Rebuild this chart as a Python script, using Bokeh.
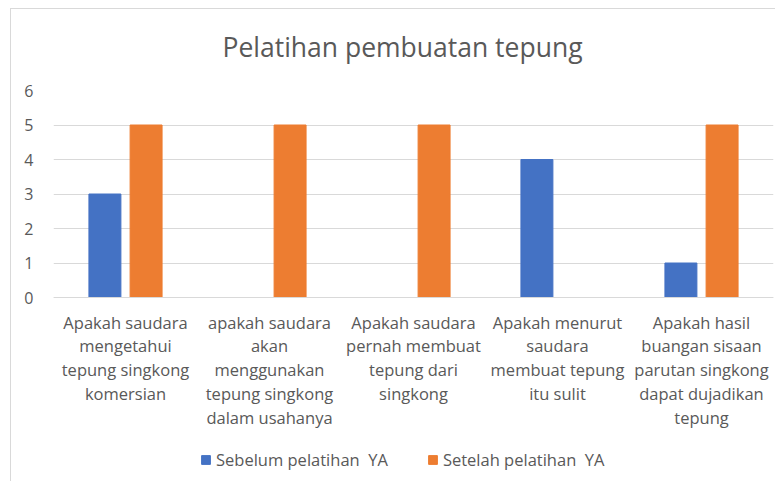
from bokeh.plotting import figure
from bokeh.models import ColumnDataSource, Legend, LegendItem, FactorRange, Range1d
from bokeh.transform import dodge
from bokeh.embed import file_html
from bokeh.resources import INLINE

categories = [
    "Apakah saudara\nmengetahui\ntepung singkong\nkomersian",
    "apakah saudara\nakan\nmenggunakan\ntepung singkong\ndalam usahanya",
    "Apakah saudara\npernah membuat\ntepung dari\nsingkong",
    "Apakah menurut\nsaudara\nmembuat tepung\nitu sulit",
    "Apakah hasil\nbuangan sisaan\nparutan singkong\ndapat dujadikan\ntepung",
]
sebelum = [3, 0, 0, 4, 1]
setelah = [5, 5, 5, 0, 5]
series_names = ["Sebelum pelatihan  YA", "Setelah pelatihan  YA"]
y_ticks = [0, 1, 2, 3, 4, 5, 6]

FONT = "Open Sans"
TXT = "#595959"
BORDER = "#d9d9d9"

# plot area: values 0..6 take the upper 207 px; the lower 184 px hold the
# category labels and the legend (all inside the frame, so nothing is clipped)
PX_PER_UNIT = 207 / 6
y_bottom = -184 / PX_PER_UNIT

src = ColumnDataSource(dict(cat=categories, sebelum=sebelum, setelah=setelah))

p = figure(frame_width=720, frame_height=391, x_range=FactorRange(*categories),
           y_range=Range1d(y_bottom, 6),
           output_backend="svg", toolbar_location=None,
           min_border_left=53, min_border_right=2, min_border_top=89, min_border_bottom=0)
p.border_fill_color = None
p.styles = {
    "background": (f"linear-gradient({BORDER},{BORDER}) 10px 8px / 1px 100% no-repeat, "
                   f"linear-gradient({BORDER},{BORDER}) 10px 8px / 100% 1px no-repeat, white"),
}

p.title.text = "Pelatihan pembuatan tepung"
p.title.align = "left"
p.title.offset = 169
p.title.text_font = FONT
p.title.text_font_size = "26.5px"
p.title.text_font_style = "normal"
p.title.text_color = TXT
p.title.standoff = 52

r1 = p.vbar(x=dodge("cat", -0.143, range=p.x_range), top="sebelum", width=0.222,
            source=src, color="#4472C4")
r2 = p.vbar(x=dodge("cat", 0.143, range=p.x_range), top="setelah", width=0.222,
            source=src, color="#ED7D31")

p.outline_line_color = None
p.xgrid.grid_line_color = None
p.ygrid.grid_line_color = BORDER
p.ygrid.grid_line_width = 1
p.yaxis.ticker = y_ticks
p.ygrid.ticker = y_ticks
p.yaxis.axis_line_color = None
p.yaxis.major_tick_line_color = None
p.yaxis.minor_tick_line_color = None
p.yaxis.major_label_text_font = FONT
p.yaxis.major_label_text_font_size = "16px"
p.yaxis.major_label_text_color = TXT
p.yaxis.major_label_standoff = 14

p.xaxis.fixed_location = 0
p.xaxis.axis_line_color = BORDER
p.xaxis.major_tick_line_color = None
p.xaxis.minor_tick_line_color = None
p.xaxis.major_label_text_font = FONT
p.xaxis.major_label_text_font_size = "16.5px"
p.xaxis.major_label_text_color = TXT
p.xaxis.major_label_text_line_height = 1.04
p.xaxis.major_label_standoff = 7
p.x_range.range_padding = 0

legend = Legend(items=[LegendItem(label=series_names[0], renderers=[r1]),
                       LegendItem(label=series_names[1], renderers=[r2])],
                orientation="horizontal", location=(147, 10),
                label_text_font=FONT, label_text_font_size="16.5px", label_text_color=TXT,
                glyph_width=11, glyph_height=11, spacing=39, border_line_color=None,
                background_fill_alpha=0, margin=0, padding=4)
p.add_layout(legend)

open("out.html", "w").write(file_html(p, INLINE))
